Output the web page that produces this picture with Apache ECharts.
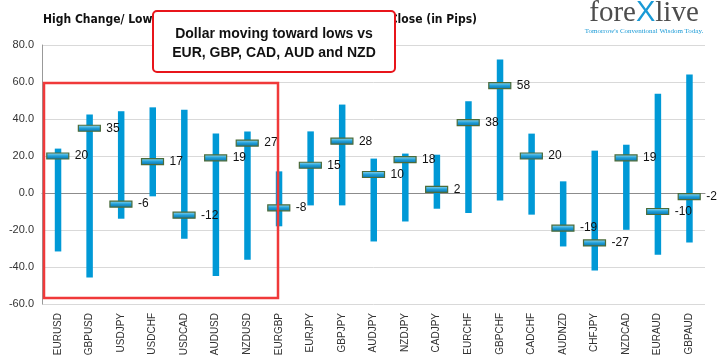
<!DOCTYPE html>
<html><head><meta charset="utf-8">
<script src="https://cdn.jsdelivr.net/npm/echarts@6/dist/echarts.min.js"></script>
<style>html,body{margin:0;padding:0;background:#fff}#c{width:724px;height:362px}</style>
</head><body><div id="c"></div>
<script>
const categories = ["EURUSD","GBPUSD","USDJPY","USDCHF","USDCAD","AUDUSD","NZDUSD","EURGBP","EURJPY","GBPJPY","AUDJPY","NZDJPY","CADJPY","EURCHF","GBPCHF","CADCHF","AUDNZD","CHFJPY","NZDCAD","EURAUD","GBPAUD"];
const highChange = [24, 42.4, 44.2, 46.3, 45, 32.1, 33.3, 11.7, 33.3, 47.8, 18.6, 21.3, 20.7, 49.6, 72.1, 32.1, 6.3, 22.9, 26.1, 53.6, 64];
const lowChange  = [-31.6, -45.7, -13.9, -1.8, -24.7, -44.8, -36.1, -18, -6.7, -6.7, -26.2, -15.4, -8.5, -10.8, -4, -11.7, -28.9, -41.9, -19.9, -33.4, -26.7];
const closeChange = [20, 35, -6, 17, -12, 19, 27, -8, 15, 28, 10, 18, 2, 38, 58, 20, -19, -27, 19, -10, -2];
const yTicks = {min: -60, max: 80, interval: 20};

const chart = echarts.init(document.getElementById('c'), null, {renderer: 'canvas'});
const rangeData = categories.map((c, i) => [i, lowChange[i], highChange[i]]);
const closeData = categories.map((c, i) => [i, closeChange[i]]);
const titleFont = {fontFamily: '"DejaVu Sans Condensed", "DejaVu Sans", sans-serif', fontWeight: 'bold', fontSize: 12, fill: '#111'};

chart.setOption({
  animation: false,
  backgroundColor: '#fff',
  grid: {left: 42, right: 19, top: 45, bottom: 58},
  xAxis: {
    type: 'category', data: categories,
    axisLine: {show: true, onZero: true, lineStyle: {color: '#8c8c8c'}}, axisTick: {show: false},
    axisLabel: {rotate: 90, fontSize: 10, color: '#333', fontFamily: 'Liberation Sans', margin: 9, interval: 0}
  },
  yAxis: {
    type: 'value', min: yTicks.min, max: yTicks.max, interval: yTicks.interval,
    axisLine: {show: true, lineStyle: {color: '#999'}}, axisTick: {show: false},
    axisLabel: {formatter: v => v.toFixed(1), fontSize: 11, color: '#333', fontFamily: 'Liberation Sans', margin: 8},
    splitLine: {lineStyle: {color: '#d9d9d9'}}
  },
  series: [
    {
      type: 'custom', data: rangeData, encode: {x: 0, y: [1, 2]},
      renderItem: function (params, api) {
        const p1 = api.coord([api.value(0), api.value(1)]);
        const p2 = api.coord([api.value(0), api.value(2)]);
        return {type: 'rect', shape: {x: p1[0] - 3, y: p2[1], width: 6.5, height: p1[1] - p2[1]}, style: {fill: '#0099d6'}};
      },
      z: 2
    },
    {
      type: 'custom', data: closeData, encode: {x: 0, y: 1},
      renderItem: function (params, api) {
        const p = api.coord([api.value(0), api.value(1)]);
        return {
          type: 'group',
          children: [
            {type: 'rect', shape: {x: p[0] - 11, y: p[1] - 3, width: 22, height: 6},
             style: {fill: new echarts.graphic.LinearGradient(0, 0, 0, 1, [
               {offset: 0, color: '#9fe0f5'}, {offset: 0.5, color: '#1f9fd8'}, {offset: 1, color: '#0a6fa8'}]),
               stroke: '#4b6b3a', lineWidth: 1.2}},
            {type: 'text', x: p[0] + 17, y: p[1],
             style: {text: String(api.value(1)), fill: '#111', fontSize: 12, fontFamily: 'Liberation Sans', verticalAlign: 'middle', align: 'left'}}
          ]
        };
      },
      z: 3
    }
  ],
  graphic: [
    {type: 'text', x: 43, y: 20, style: Object.assign({text: 'High Change/ Low Change/ Close vs Previous Day', verticalAlign: 'middle', align: 'left'}, titleFont), z: 10},
    {type: 'text', x: 477, y: 20, style: Object.assign({text: 'Close (in Pips)', verticalAlign: 'middle', align: 'right'}, titleFont), z: 10},
    {type: 'rect', shape: {x: 153, y: 11, width: 242, height: 61, r: 4}, style: {fill: '#fff', stroke: '#e8151b', lineWidth: 2}, z: 11},
    {type: 'text', x: 274, y: 34, style: {text: 'Dollar moving toward lows vs', fontFamily: 'Liberation Sans', fontWeight: 'bold', fontSize: 14, fill: '#111', align: 'center', verticalAlign: 'middle'}, z: 12},
    {type: 'text', x: 274, y: 53, style: {text: 'EUR, GBP, CAD, AUD and NZD', fontFamily: 'Liberation Sans', fontWeight: 'bold', fontSize: 14, fill: '#111', align: 'center', verticalAlign: 'middle'}, z: 12},
    {type: 'rect', shape: {x: 44, y: 83, width: 234, height: 215}, style: {fill: 'none', stroke: '#f0393a', lineWidth: 2.5}, z: 9},
    {type: 'text', x: 644, y: 13, style: {
      text: '{a|fore}{b|X}{a|live}', align: 'center', verticalAlign: 'middle',
      rich: {a: {fontFamily: 'Liberation Serif', fontSize: 29, fill: '#4d4d4d', fontWeight: 'normal'},
             b: {fontFamily: 'Liberation Sans', fontSize: 29, fill: '#1a9ad6'}}}, z: 10},
    {type: 'text', x: 644, y: 31, style: {text: "Tomorrow's Conventional Wisdom Today.", fontFamily: 'Liberation Serif', fontSize: 7, fill: '#1a9ad6', align: 'center', verticalAlign: 'middle'}, z: 10}
  ]
});
</script></body></html>
